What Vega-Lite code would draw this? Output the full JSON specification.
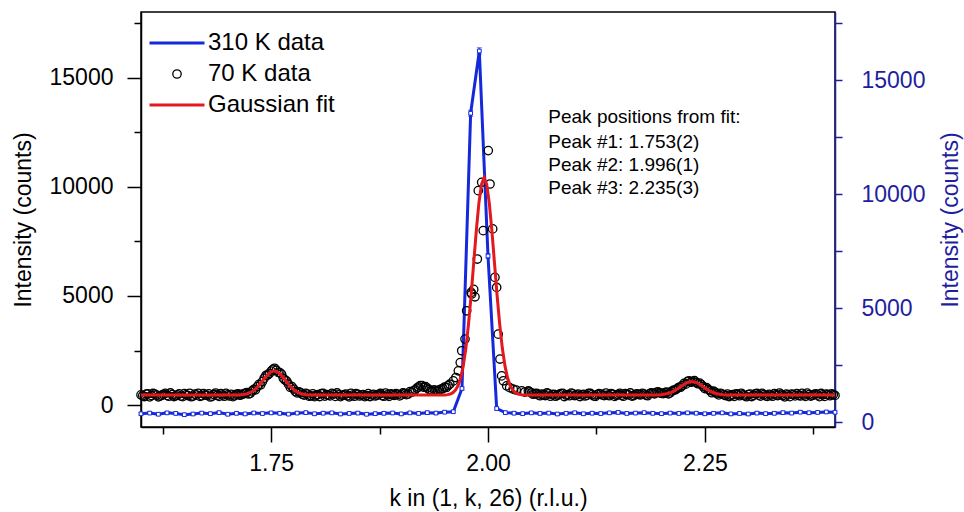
{
"$schema": "https://vega.github.io/schema/vega-lite/v6.json",
"width": 694, "height": 415,
"autosize": {"type": "none"},
"padding": {"left": 141, "top": 12, "right": 129, "bottom": 85},
"background": "white",
"config": {
 "font": "Liberation Sans",
 "view": {"stroke": "black", "strokeWidth": 1.5},
 "axis": {"grid": false, "labelFont": "Liberation Sans", "titleFont": "Liberation Sans", "labelFontSize": 23, "titleFontSize": 23, "titleFontWeight": "normal", "domainWidth": 1.5, "tickWidth": 1.5, "domainColor": "black", "tickColor": "black", "labelColor": "black", "titleColor": "black"},
 "legend": {"title": null, "orient": "none", "legendX": 24, "legendY": 19, "padding": 0, "labelFontSize": 24, "labelFont": "Liberation Sans", "labelColor": "black", "labelOffset": 19, "symbolSize": 400, "rowPadding": 7}
},
"datasets": {
 "hot": [
  {"k":1.60,"I":380,"err":60},{"k":1.61,"I":410,"err":60},{"k":1.62,"I":360,"err":60},{"k":1.63,"I":420,"err":60},{"k":1.64,"I":395,"err":60},{"k":1.65,"I":340,"err":60},{"k":1.66,"I":370,"err":60},{"k":1.67,"I":410,"err":60},{"k":1.68,"I":385,"err":60},{"k":1.69,"I":430,"err":60},
  {"k":1.70,"I":360,"err":60},{"k":1.71,"I":400,"err":60},{"k":1.72,"I":375,"err":60},{"k":1.73,"I":415,"err":60},{"k":1.74,"I":390,"err":60},{"k":1.75,"I":420,"err":60},{"k":1.76,"I":400,"err":60},{"k":1.77,"I":365,"err":60},{"k":1.78,"I":410,"err":60},{"k":1.79,"I":430,"err":60},
  {"k":1.80,"I":380,"err":60},{"k":1.81,"I":405,"err":60},{"k":1.82,"I":420,"err":60},{"k":1.83,"I":370,"err":60},{"k":1.84,"I":395,"err":60},{"k":1.85,"I":410,"err":60},{"k":1.86,"I":360,"err":60},{"k":1.87,"I":385,"err":60},{"k":1.88,"I":400,"err":60},{"k":1.89,"I":415,"err":60},
  {"k":1.90,"I":375,"err":60},{"k":1.91,"I":420,"err":60},{"k":1.92,"I":395,"err":60},{"k":1.93,"I":430,"err":60},{"k":1.94,"I":410,"err":60},{"k":1.95,"I":450,"err":60},{"k":1.96,"I":470,"err":60},{"k":1.97,"I":1490,"err":70},{"k":1.98,"I":13560,"err":130},{"k":1.99,"I":16290,"err":140},
  {"k":2.00,"I":7300,"err":100},{"k":2.01,"I":610,"err":60},{"k":2.02,"I":430,"err":60},{"k":2.03,"I":405,"err":60},{"k":2.04,"I":385,"err":60},{"k":2.05,"I":420,"err":60},{"k":2.06,"I":395,"err":60},{"k":2.07,"I":410,"err":60},{"k":2.08,"I":370,"err":60},{"k":2.09,"I":400,"err":60},
  {"k":2.10,"I":425,"err":60},{"k":2.11,"I":380,"err":60},{"k":2.12,"I":405,"err":60},{"k":2.13,"I":390,"err":60},{"k":2.14,"I":420,"err":60},{"k":2.15,"I":440,"err":60},{"k":2.16,"I":395,"err":60},{"k":2.17,"I":410,"err":60},{"k":2.18,"I":430,"err":60},{"k":2.19,"I":400,"err":60},
  {"k":2.20,"I":385,"err":60},{"k":2.21,"I":410,"err":60},{"k":2.22,"I":395,"err":60},{"k":2.23,"I":420,"err":60},{"k":2.24,"I":405,"err":60},{"k":2.25,"I":380,"err":60},{"k":2.26,"I":400,"err":60},{"k":2.27,"I":420,"err":60},{"k":2.28,"I":375,"err":60},{"k":2.29,"I":395,"err":60},
  {"k":2.30,"I":370,"err":60},{"k":2.31,"I":410,"err":60},{"k":2.32,"I":385,"err":60},{"k":2.33,"I":400,"err":60},{"k":2.34,"I":430,"err":60},{"k":2.35,"I":410,"err":60},{"k":2.36,"I":450,"err":60},{"k":2.37,"I":425,"err":60},{"k":2.38,"I":440,"err":60},{"k":2.39,"I":460,"err":60},{"k":2.40,"I":445,"err":60}
 ],
 "cold": [
  {"k":1.600,"I":470,"series":"70 K data"},{"k":1.604,"I":395,"series":"70 K data"},{"k":1.608,"I":520,"series":"70 K data"},{"k":1.612,"I":440,"series":"70 K data"},{"k":1.616,"I":505,"series":"70 K data"},{"k":1.620,"I":380,"series":"70 K data"},{"k":1.624,"I":455,"series":"70 K data"},{"k":1.628,"I":540,"series":"70 K data"},{"k":1.632,"I":410,"series":"70 K data"},{"k":1.636,"I":480,"series":"70 K data"},
  {"k":1.640,"I":430,"series":"70 K data"},{"k":1.644,"I":515,"series":"70 K data"},{"k":1.648,"I":390,"series":"70 K data"},{"k":1.652,"I":470,"series":"70 K data"},{"k":1.656,"I":545,"series":"70 K data"},{"k":1.660,"I":420,"series":"70 K data"},{"k":1.664,"I":460,"series":"70 K data"},{"k":1.668,"I":400,"series":"70 K data"},{"k":1.672,"I":530,"series":"70 K data"},{"k":1.676,"I":445,"series":"70 K data"},
  {"k":1.680,"I":375,"series":"70 K data"},{"k":1.684,"I":490,"series":"70 K data"},{"k":1.688,"I":455,"series":"70 K data"},{"k":1.692,"I":525,"series":"70 K data"},{"k":1.696,"I":410,"series":"70 K data"},{"k":1.700,"I":470,"series":"70 K data"},{"k":1.704,"I":500,"series":"70 K data"},{"k":1.708,"I":435,"series":"70 K data"},{"k":1.712,"I":520,"series":"70 K data"},{"k":1.716,"I":480,"series":"70 K data"},
  {"k":1.720,"I":540,"series":"70 K data"},{"k":1.724,"I":510,"series":"70 K data"},{"k":1.728,"I":650,"series":"70 K data"},{"k":1.732,"I":700,"series":"70 K data"},{"k":1.736,"I":950,"series":"70 K data"},{"k":1.740,"I":1080,"series":"70 K data"},{"k":1.744,"I":1360,"series":"70 K data"},{"k":1.748,"I":1450,"series":"70 K data"},{"k":1.752,"I":1640,"series":"70 K data"},{"k":1.756,"I":1600,"series":"70 K data"},
  {"k":1.760,"I":1490,"series":"70 K data"},{"k":1.764,"I":1230,"series":"70 K data"},{"k":1.768,"I":1100,"series":"70 K data"},{"k":1.772,"I":820,"series":"70 K data"},{"k":1.776,"I":740,"series":"70 K data"},{"k":1.780,"I":560,"series":"70 K data"},{"k":1.784,"I":570,"series":"70 K data"},{"k":1.788,"I":460,"series":"70 K data"},
  {"k":1.792,"I":505,"series":"70 K data"},{"k":1.796,"I":430,"series":"70 K data"},{"k":1.800,"I":390,"series":"70 K data"},{"k":1.804,"I":480,"series":"70 K data"},{"k":1.808,"I":525,"series":"70 K data"},{"k":1.812,"I":415,"series":"70 K data"},{"k":1.816,"I":460,"series":"70 K data"},{"k":1.820,"I":540,"series":"70 K data"},{"k":1.824,"I":400,"series":"70 K data"},{"k":1.828,"I":470,"series":"70 K data"},
  {"k":1.832,"I":445,"series":"70 K data"},{"k":1.836,"I":510,"series":"70 K data"},{"k":1.840,"I":380,"series":"70 K data"},{"k":1.844,"I":465,"series":"70 K data"},{"k":1.848,"I":530,"series":"70 K data"},{"k":1.852,"I":420,"series":"70 K data"},{"k":1.856,"I":485,"series":"70 K data"},{"k":1.860,"I":440,"series":"70 K data"},{"k":1.864,"I":395,"series":"70 K data"},{"k":1.868,"I":500,"series":"70 K data"},
  {"k":1.872,"I":455,"series":"70 K data"},{"k":1.876,"I":535,"series":"70 K data"},{"k":1.880,"I":410,"series":"70 K data"},{"k":1.884,"I":475,"series":"70 K data"},{"k":1.888,"I":520,"series":"70 K data"},{"k":1.892,"I":445,"series":"70 K data"},{"k":1.896,"I":500,"series":"70 K data"},{"k":1.900,"I":470,"series":"70 K data"},{"k":1.904,"I":540,"series":"70 K data"},{"k":1.908,"I":510,"series":"70 K data"},
  {"k":1.912,"I":590,"series":"70 K data"},{"k":1.916,"I":700,"series":"70 K data"},{"k":1.920,"I":830,"series":"70 K data"},{"k":1.924,"I":890,"series":"70 K data"},{"k":1.928,"I":850,"series":"70 K data"},{"k":1.932,"I":720,"series":"70 K data"},{"k":1.936,"I":640,"series":"70 K data"},{"k":1.940,"I":660,"series":"70 K data"},{"k":1.944,"I":700,"series":"70 K data"},{"k":1.948,"I":760,"series":"70 K data"},
  {"k":1.952,"I":810,"series":"70 K data"},{"k":1.956,"I":960,"series":"70 K data"},{"k":1.960,"I":1110,"series":"70 K data"},{"k":1.963,"I":1265,"series":"70 K data"},{"k":1.9658,"I":1570,"series":"70 K data"},{"k":1.968,"I":1950,"series":"70 K data"},{"k":1.9697,"I":2490,"series":"70 K data"},{"k":1.9735,"I":3025,"series":"70 K data"},{"k":1.9754,"I":4320,"series":"70 K data"},{"k":1.9805,"I":5160,"series":"70 K data"},
  {"k":1.9812,"I":5090,"series":"70 K data"},{"k":1.9835,"I":5300,"series":"70 K data"},{"k":1.985,"I":4960,"series":"70 K data"},{"k":1.9877,"I":6690,"series":"70 K data"},{"k":1.9888,"I":9820,"series":"70 K data"},{"k":1.9927,"I":10200,"series":"70 K data"},{"k":1.9945,"I":7990,"series":"70 K data"},{"k":2.0003,"I":11655,"series":"70 K data"},{"k":2.0023,"I":10125,"series":"70 K data"},{"k":2.0054,"I":8070,"series":"70 K data"},
  {"k":2.008,"I":5850,"series":"70 K data"},{"k":2.010,"I":5390,"series":"70 K data"},{"k":2.0118,"I":3250,"series":"70 K data"},{"k":2.0138,"I":2110,"series":"70 K data"},{"k":2.0157,"I":1340,"series":"70 K data"},{"k":2.0177,"I":1115,"series":"70 K data"},{"k":2.0215,"I":885,"series":"70 K data"},{"k":2.025,"I":800,"series":"70 K data"},{"k":2.029,"I":735,"series":"70 K data"},{"k":2.0325,"I":690,"series":"70 K data"},
  {"k":2.0389,"I":655,"series":"70 K data"},{"k":2.0425,"I":600,"series":"70 K data"},{"k":2.0465,"I":650,"series":"70 K data"},{"k":2.050,"I":560,"series":"70 K data"},
  {"k":2.054,"I":530,"series":"70 K data"},{"k":2.058,"I":470,"series":"70 K data"},{"k":2.062,"I":505,"series":"70 K data"},{"k":2.066,"I":440,"series":"70 K data"},{"k":2.070,"I":520,"series":"70 K data"},{"k":2.074,"I":480,"series":"70 K data"},{"k":2.078,"I":410,"series":"70 K data"},{"k":2.082,"I":495,"series":"70 K data"},{"k":2.086,"I":545,"series":"70 K data"},{"k":2.090,"I":460,"series":"70 K data"},
  {"k":2.094,"I":430,"series":"70 K data"},{"k":2.098,"I":515,"series":"70 K data"},{"k":2.102,"I":470,"series":"70 K data"},{"k":2.106,"I":395,"series":"70 K data"},{"k":2.110,"I":500,"series":"70 K data"},{"k":2.114,"I":455,"series":"70 K data"},{"k":2.118,"I":535,"series":"70 K data"},{"k":2.122,"I":420,"series":"70 K data"},{"k":2.126,"I":480,"series":"70 K data"},{"k":2.130,"I":510,"series":"70 K data"},
  {"k":2.134,"I":440,"series":"70 K data"},{"k":2.138,"I":465,"series":"70 K data"},{"k":2.142,"I":525,"series":"70 K data"},{"k":2.146,"I":400,"series":"70 K data"},{"k":2.150,"I":490,"series":"70 K data"},{"k":2.154,"I":455,"series":"70 K data"},{"k":2.158,"I":530,"series":"70 K data"},{"k":2.162,"I":470,"series":"70 K data"},{"k":2.166,"I":415,"series":"70 K data"},{"k":2.170,"I":500,"series":"70 K data"},
  {"k":2.174,"I":480,"series":"70 K data"},{"k":2.178,"I":540,"series":"70 K data"},{"k":2.182,"I":460,"series":"70 K data"},{"k":2.186,"I":515,"series":"70 K data"},{"k":2.190,"I":545,"series":"70 K data"},{"k":2.194,"I":590,"series":"70 K data"},{"k":2.198,"I":560,"series":"70 K data"},
  {"k":2.202,"I":530,"series":"70 K data"},{"k":2.206,"I":600,"series":"70 K data"},{"k":2.210,"I":560,"series":"70 K data"},{"k":2.214,"I":690,"series":"70 K data"},{"k":2.218,"I":760,"series":"70 K data"},{"k":2.222,"I":820,"series":"70 K data"},{"k":2.226,"I":1000,"series":"70 K data"},{"k":2.230,"I":1090,"series":"70 K data"},{"k":2.234,"I":1050,"series":"70 K data"},{"k":2.238,"I":1120,"series":"70 K data"},
  {"k":2.242,"I":980,"series":"70 K data"},{"k":2.246,"I":940,"series":"70 K data"},{"k":2.250,"I":760,"series":"70 K data"},{"k":2.254,"I":720,"series":"70 K data"},{"k":2.258,"I":570,"series":"70 K data"},{"k":2.262,"I":590,"series":"70 K data"},{"k":2.266,"I":470,"series":"70 K data"},{"k":2.270,"I":510,"series":"70 K data"},
  {"k":2.274,"I":440,"series":"70 K data"},{"k":2.278,"I":395,"series":"70 K data"},{"k":2.282,"I":485,"series":"70 K data"},{"k":2.286,"I":520,"series":"70 K data"},{"k":2.290,"I":430,"series":"70 K data"},{"k":2.294,"I":470,"series":"70 K data"},{"k":2.298,"I":385,"series":"70 K data"},{"k":2.302,"I":505,"series":"70 K data"},{"k":2.306,"I":450,"series":"70 K data"},{"k":2.310,"I":535,"series":"70 K data"},
  {"k":2.314,"I":415,"series":"70 K data"},{"k":2.318,"I":480,"series":"70 K data"},{"k":2.322,"I":400,"series":"70 K data"},{"k":2.326,"I":460,"series":"70 K data"},{"k":2.330,"I":525,"series":"70 K data"},{"k":2.334,"I":440,"series":"70 K data"},{"k":2.338,"I":495,"series":"70 K data"},{"k":2.342,"I":380,"series":"70 K data"},{"k":2.346,"I":470,"series":"70 K data"},{"k":2.350,"I":510,"series":"70 K data"},
  {"k":2.354,"I":425,"series":"70 K data"},{"k":2.358,"I":455,"series":"70 K data"},{"k":2.362,"I":540,"series":"70 K data"},{"k":2.366,"I":405,"series":"70 K data"},{"k":2.370,"I":485,"series":"70 K data"},{"k":2.374,"I":450,"series":"70 K data"},{"k":2.378,"I":520,"series":"70 K data"},{"k":2.382,"I":390,"series":"70 K data"},{"k":2.386,"I":475,"series":"70 K data"},{"k":2.390,"I":505,"series":"70 K data"},
  {"k":2.394,"I":430,"series":"70 K data"},{"k":2.398,"I":480,"series":"70 K data"},
  {"k":1.602,"I":430,"series":"70 K data"},{"k":1.606,"I":505,"series":"70 K data"},{"k":1.610,"I":380,"series":"70 K data"},{"k":1.614,"I":535,"series":"70 K data"},{"k":1.618,"I":460,"series":"70 K data"},{"k":1.622,"I":415,"series":"70 K data"},{"k":1.626,"I":500,"series":"70 K data"},{"k":1.630,"I":445,"series":"70 K data"},{"k":1.634,"I":560,"series":"70 K data"},{"k":1.638,"I":395,"series":"70 K data"},
  {"k":1.642,"I":470,"series":"70 K data"},{"k":1.646,"I":420,"series":"70 K data"},{"k":1.650,"I":530,"series":"70 K data"},{"k":1.654,"I":440,"series":"70 K data"},{"k":1.658,"I":385,"series":"70 K data"},{"k":1.662,"I":505,"series":"70 K data"},{"k":1.666,"I":545,"series":"70 K data"},{"k":1.670,"I":430,"series":"70 K data"},{"k":1.674,"I":470,"series":"70 K data"},{"k":1.678,"I":520,"series":"70 K data"},
  {"k":1.682,"I":410,"series":"70 K data"},{"k":1.686,"I":555,"series":"70 K data"},{"k":1.690,"I":400,"series":"70 K data"},{"k":1.694,"I":465,"series":"70 K data"},{"k":1.698,"I":540,"series":"70 K data"},{"k":1.702,"I":420,"series":"70 K data"},{"k":1.706,"I":390,"series":"70 K data"},{"k":1.710,"I":500,"series":"70 K data"},{"k":1.714,"I":455,"series":"70 K data"},
  {"k":1.718,"I":520,"series":"70 K data"},{"k":1.722,"I":580,"series":"70 K data"},{"k":1.726,"I":540,"series":"70 K data"},{"k":1.730,"I":720,"series":"70 K data"},{"k":1.734,"I":850,"series":"70 K data"},{"k":1.738,"I":930,"series":"70 K data"},{"k":1.742,"I":1230,"series":"70 K data"},{"k":1.746,"I":1380,"series":"70 K data"},{"k":1.750,"I":1560,"series":"70 K data"},{"k":1.754,"I":1690,"series":"70 K data"},
  {"k":1.758,"I":1500,"series":"70 K data"},{"k":1.762,"I":1420,"series":"70 K data"},{"k":1.766,"I":1150,"series":"70 K data"},{"k":1.770,"I":960,"series":"70 K data"},{"k":1.774,"I":850,"series":"70 K data"},{"k":1.778,"I":620,"series":"70 K data"},{"k":1.782,"I":610,"series":"70 K data"},{"k":1.786,"I":500,"series":"70 K data"},{"k":1.790,"I":540,"series":"70 K data"},
  {"k":1.794,"I":410,"series":"70 K data"},{"k":1.798,"I":520,"series":"70 K data"},{"k":1.802,"I":455,"series":"70 K data"},{"k":1.806,"I":395,"series":"70 K data"},{"k":1.810,"I":540,"series":"70 K data"},{"k":1.814,"I":480,"series":"70 K data"},{"k":1.818,"I":425,"series":"70 K data"},{"k":1.822,"I":505,"series":"70 K data"},{"k":1.826,"I":560,"series":"70 K data"},{"k":1.830,"I":390,"series":"70 K data"},
  {"k":1.834,"I":475,"series":"70 K data"},{"k":1.838,"I":430,"series":"70 K data"},{"k":1.842,"I":545,"series":"70 K data"},{"k":1.846,"I":410,"series":"70 K data"},{"k":1.850,"I":500,"series":"70 K data"},{"k":1.854,"I":460,"series":"70 K data"},{"k":1.858,"I":390,"series":"70 K data"},{"k":1.862,"I":530,"series":"70 K data"},{"k":1.866,"I":470,"series":"70 K data"},{"k":1.870,"I":420,"series":"70 K data"},
  {"k":1.874,"I":495,"series":"70 K data"},{"k":1.878,"I":440,"series":"70 K data"},{"k":1.882,"I":555,"series":"70 K data"},{"k":1.886,"I":405,"series":"70 K data"},{"k":1.890,"I":480,"series":"70 K data"},{"k":1.894,"I":530,"series":"70 K data"},{"k":1.898,"I":425,"series":"70 K data"},{"k":1.902,"I":560,"series":"70 K data"},{"k":1.906,"I":480,"series":"70 K data"},{"k":1.910,"I":620,"series":"70 K data"},
  {"k":1.914,"I":660,"series":"70 K data"},{"k":1.918,"I":780,"series":"70 K data"},{"k":1.922,"I":900,"series":"70 K data"},{"k":1.926,"I":820,"series":"70 K data"},{"k":1.930,"I":780,"series":"70 K data"},{"k":1.934,"I":660,"series":"70 K data"},{"k":1.938,"I":700,"series":"70 K data"},{"k":1.942,"I":640,"series":"70 K data"},{"k":1.946,"I":740,"series":"70 K data"},{"k":1.950,"I":830,"series":"70 K data"},{"k":1.954,"I":900,"series":"70 K data"},
  {"k":2.048,"I":610,"series":"70 K data"},{"k":2.052,"I":500,"series":"70 K data"},{"k":2.056,"I":545,"series":"70 K data"},{"k":2.060,"I":430,"series":"70 K data"},{"k":2.064,"I":480,"series":"70 K data"},{"k":2.068,"I":560,"series":"70 K data"},{"k":2.072,"I":410,"series":"70 K data"},{"k":2.076,"I":500,"series":"70 K data"},{"k":2.080,"I":455,"series":"70 K data"},{"k":2.084,"I":530,"series":"70 K data"},
  {"k":2.088,"I":395,"series":"70 K data"},{"k":2.092,"I":485,"series":"70 K data"},{"k":2.096,"I":550,"series":"70 K data"},{"k":2.100,"I":440,"series":"70 K data"},{"k":2.104,"I":510,"series":"70 K data"},{"k":2.108,"I":470,"series":"70 K data"},{"k":2.112,"I":420,"series":"70 K data"},{"k":2.116,"I":545,"series":"70 K data"},{"k":2.120,"I":480,"series":"70 K data"},{"k":2.124,"I":400,"series":"70 K data"},
  {"k":2.128,"I":525,"series":"70 K data"},{"k":2.132,"I":465,"series":"70 K data"},{"k":2.136,"I":555,"series":"70 K data"},{"k":2.140,"I":430,"series":"70 K data"},{"k":2.144,"I":500,"series":"70 K data"},{"k":2.148,"I":450,"series":"70 K data"},{"k":2.152,"I":540,"series":"70 K data"},{"k":2.156,"I":410,"series":"70 K data"},{"k":2.160,"I":495,"series":"70 K data"},{"k":2.164,"I":560,"series":"70 K data"},
  {"k":2.168,"I":440,"series":"70 K data"},{"k":2.172,"I":520,"series":"70 K data"},{"k":2.176,"I":470,"series":"70 K data"},{"k":2.180,"I":505,"series":"70 K data"},{"k":2.184,"I":430,"series":"70 K data"},{"k":2.188,"I":560,"series":"70 K data"},{"k":2.192,"I":520,"series":"70 K data"},{"k":2.196,"I":610,"series":"70 K data"},
  {"k":2.200,"I":540,"series":"70 K data"},{"k":2.204,"I":580,"series":"70 K data"},{"k":2.208,"I":520,"series":"70 K data"},{"k":2.212,"I":640,"series":"70 K data"},{"k":2.216,"I":700,"series":"70 K data"},{"k":2.220,"I":820,"series":"70 K data"},{"k":2.224,"I":900,"series":"70 K data"},{"k":2.228,"I":960,"series":"70 K data"},{"k":2.232,"I":1110,"series":"70 K data"},{"k":2.236,"I":1080,"series":"70 K data"},
  {"k":2.240,"I":1040,"series":"70 K data"},{"k":2.244,"I":1010,"series":"70 K data"},{"k":2.248,"I":850,"series":"70 K data"},{"k":2.252,"I":800,"series":"70 K data"},{"k":2.256,"I":660,"series":"70 K data"},{"k":2.260,"I":640,"series":"70 K data"},{"k":2.264,"I":530,"series":"70 K data"},{"k":2.268,"I":540,"series":"70 K data"},{"k":2.272,"I":470,"series":"70 K data"},
  {"k":2.276,"I":510,"series":"70 K data"},{"k":2.280,"I":445,"series":"70 K data"},{"k":2.284,"I":405,"series":"70 K data"},{"k":2.288,"I":490,"series":"70 K data"},{"k":2.292,"I":545,"series":"70 K data"},{"k":2.296,"I":430,"series":"70 K data"},{"k":2.300,"I":480,"series":"70 K data"},{"k":2.304,"I":395,"series":"70 K data"},{"k":2.308,"I":520,"series":"70 K data"},{"k":2.312,"I":460,"series":"70 K data"},
  {"k":2.316,"I":540,"series":"70 K data"},{"k":2.320,"I":425,"series":"70 K data"},{"k":2.324,"I":500,"series":"70 K data"},{"k":2.328,"I":410,"series":"70 K data"},{"k":2.332,"I":470,"series":"70 K data"},{"k":2.336,"I":555,"series":"70 K data"},{"k":2.340,"I":440,"series":"70 K data"},{"k":2.344,"I":505,"series":"70 K data"},{"k":2.348,"I":390,"series":"70 K data"},{"k":2.352,"I":480,"series":"70 K data"},
  {"k":2.356,"I":530,"series":"70 K data"},{"k":2.360,"I":420,"series":"70 K data"},{"k":2.364,"I":465,"series":"70 K data"},{"k":2.368,"I":550,"series":"70 K data"},{"k":2.372,"I":415,"series":"70 K data"},{"k":2.376,"I":495,"series":"70 K data"},{"k":2.380,"I":460,"series":"70 K data"},{"k":2.384,"I":535,"series":"70 K data"},{"k":2.388,"I":400,"series":"70 K data"},{"k":2.392,"I":480,"series":"70 K data"},{"k":2.396,"I":520,"series":"70 K data"},{"k":2.400,"I":445,"series":"70 K data"}
 ],
 "fit": [
  {"k":1.60,"I":460},{"k":1.64,"I":460},{"k":1.68,"I":460},{"k":1.70,"I":460},{"k":1.7135,"I":470},{"k":1.7175,"I":484},{"k":1.7215,"I":513},{"k":1.7255,"I":569},{"k":1.7295,"I":662},{"k":1.7335,"I":800},
  {"k":1.7375,"I":981},{"k":1.7415,"I":1185},{"k":1.7455,"I":1379},{"k":1.7495,"I":1519},{"k":1.7535,"I":1570},{"k":1.7575,"I":1519},{"k":1.7615,"I":1379},{"k":1.7655,"I":1185},{"k":1.7695,"I":981},{"k":1.7735,"I":800},
  {"k":1.7775,"I":662},{"k":1.7815,"I":569},{"k":1.7855,"I":513},{"k":1.7895,"I":484},{"k":1.7935,"I":470},{"k":1.80,"I":462},{"k":1.85,"I":460},{"k":1.90,"I":460},{"k":1.93,"I":460},{"k":1.945,"I":461},
  {"k":1.9505,"I":469},{"k":1.9535,"I":482},{"k":1.9565,"I":511},{"k":1.9595,"I":571},{"k":1.9625,"I":687},{"k":1.9655,"I":897},{"k":1.9685,"I":1253},{"k":1.9715,"I":1808},{"k":1.9745,"I":2614},{"k":1.9775,"I":3694},
  {"k":1.9805,"I":5020},{"k":1.9835,"I":6501},{"k":1.9865,"I":7978},{"k":1.9895,"I":9250},{"k":1.9925,"I":10111},{"k":1.9955,"I":10420},{"k":1.9985,"I":10111},{"k":2.0015,"I":9250},{"k":2.0045,"I":7978},{"k":2.0075,"I":6501},
  {"k":2.0105,"I":5020},{"k":2.0135,"I":3694},{"k":2.0165,"I":2614},{"k":2.0195,"I":1808},{"k":2.0225,"I":1253},{"k":2.0255,"I":897},{"k":2.0285,"I":687},{"k":2.0315,"I":571},{"k":2.0345,"I":511},{"k":2.0375,"I":482},
  {"k":2.0405,"I":469},{"k":2.05,"I":462},{"k":2.10,"I":460},{"k":2.15,"I":460},{"k":2.19,"I":461},{"k":2.195,"I":468},{"k":2.199,"I":478},{"k":2.203,"I":497},{"k":2.207,"I":532},{"k":2.211,"I":588},
  {"k":2.215,"I":667},{"k":2.219,"I":767},{"k":2.223,"I":878},{"k":2.227,"I":980},{"k":2.231,"I":1053},{"k":2.235,"I":1080},{"k":2.239,"I":1053},{"k":2.243,"I":980},{"k":2.247,"I":878},{"k":2.251,"I":767},
  {"k":2.255,"I":667},{"k":2.259,"I":588},{"k":2.263,"I":532},{"k":2.267,"I":497},{"k":2.271,"I":478},{"k":2.275,"I":468},{"k":2.30,"I":460},{"k":2.35,"I":460},{"k":2.40,"I":460}
 ],
 "notes": [
  {"k":2.0695,"I":13181,"t":"Peak positions from fit:"},
  {"k":2.0695,"I":12067,"t":"Peak #1: 1.753(2)"},
  {"k":2.0695,"I":10999,"t":"Peak #2: 1.996(1)"},
  {"k":2.0695,"I":9927,"t":"Peak #3: 2.235(3)"}
 ]
},
"encoding": {
 "x": {"field": "k", "type": "quantitative", "scale": {"domain": [1.6, 2.4], "nice": false, "zero": false},
  "axis": {"title": "k in (1, k, 26) (r.l.u.)", "values": [1.625, 1.75, 1.875, 2, 2.125, 2.25, 2.375],
   "labelExpr": "abs(datum.value*4 - round(datum.value*4)) > 0.1 ? '' : format(datum.value, '.2f')",
   "tickSize": {"condition": {"test": "abs(datum.value*4 - round(datum.value*4)) > 0.1", "value": 7}, "value": 15},
   "labelPadding": 10, "titlePadding": 12}}
},
"layer": [
 {
  "data": {"name": "hot"},
  "encoding": {"y": {"field": "I", "type": "quantitative", "scale": {"domain": [-200, 18000], "nice": false, "zero": false},
   "axis": {"orient": "right", "title": "Intensity (counts)", "values": [0, 2500, 5000, 7500, 10000, 12500, 15000, 17500],
    "labelExpr": "datum.value % 5000 === 0 ? format(datum.value, 'd') : ''", "tickSize": 7,
    "domainColor": "#1e1ea0", "tickColor": "#1e1ea0", "labelColor": "#1e1ea0", "titleColor": "#1e1ea0",
    "labelPadding": 19, "titleAngle": 270, "titleBaseline": "top", "titlePadding": 15}}},
  "layer": [
   {"mark": {"type": "line", "color": "#1428dc", "strokeWidth": 3}, "encoding": {}},
   {"mark": {"type": "errorbar", "color": "#1428dc", "thickness": 1, "ticks": true}, "encoding": {"yError": {"field": "err"}}},
   {"mark": {"type": "point", "shape": "square", "filled": true, "fill": "white", "stroke": "#1428dc", "strokeWidth": 1, "size": 14, "opacity": 1}, "encoding": {}}
  ]
 },
 {
  "encoding": {"y": {"field": "I", "type": "quantitative", "scale": {"domain": [-1000, 18000], "nice": false, "zero": false},
   "axis": {"orient": "left", "title": "Intensity (counts)", "values": [0, 2500, 5000, 7500, 10000, 12500, 15000, 17500],
    "labelExpr": "datum.value % 5000 === 0 ? format(datum.value, 'd') : ''",
    "tickSize": {"condition": {"test": "datum.value % 5000 !== 0", "value": 7}, "value": 14},
    "labelPadding": 14, "titlePadding": 14}}},
  "layer": [
   {"data": {"name": "cold"},
    "mark": {"type": "point", "filled": false, "size": 400, "opacity": 1},
    "encoding": {
     "color": {"field": "series", "type": "nominal",
      "scale": {"domain": ["310 K data", "70 K data", "Gaussian fit"], "range": ["#1428dc", "black", "#e3191e"]}},
     "shape": {"field": "series", "type": "nominal",
      "scale": {"domain": ["310 K data", "70 K data", "Gaussian fit"], "range": ["M-2.75,0H2.75", "M-0.42,0A0.42,0.42,0,1,0,0.42,0A0.42,0.42,0,1,0,-0.42,0Z", "M-2.75,0H2.75"]}},
     "strokeWidth": {"field": "series", "type": "nominal",
      "scale": {"type": "ordinal", "domain": ["310 K data", "70 K data", "Gaussian fit"], "range": [3, 1.3, 3]}}
    }},
   {"data": {"name": "fit"}, "mark": {"type": "line", "color": "#e3191e", "strokeWidth": 3}, "encoding": {}},
   {"data": {"name": "notes"}, "mark": {"type": "text", "align": "left", "baseline": "middle", "fontSize": 19, "color": "black", "font": "Liberation Sans"},
    "encoding": {"text": {"field": "t", "type": "nominal"}}}
  ]
 }
],
"resolve": {"scale": {"y": "independent"}}
}
